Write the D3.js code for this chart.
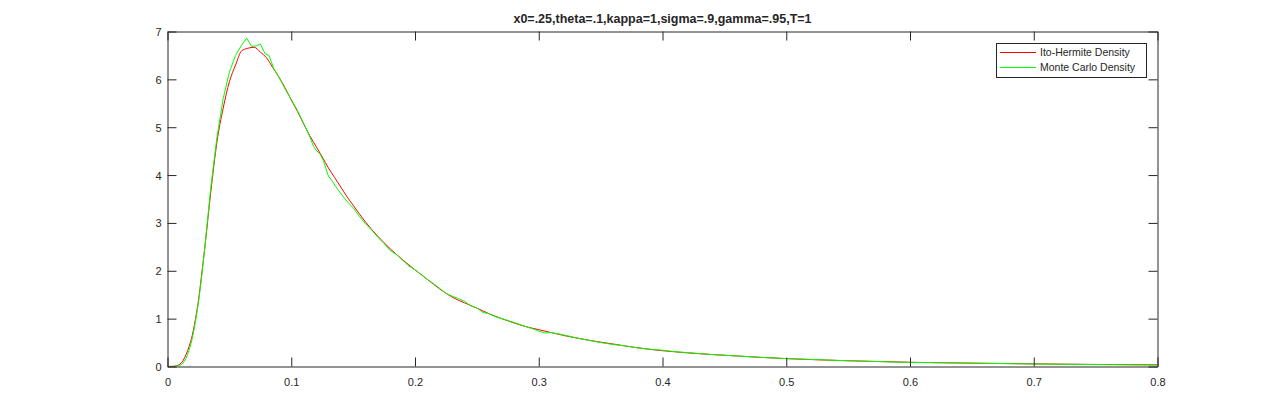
<!DOCTYPE html>
<html><head><meta charset="utf-8">
<script src="https://cdn.jsdelivr.net/npm/d3@7"></script>
<style>
html,body{margin:0;padding:0;background:#fff;}
svg{display:block;}
text{font-family:"Liberation Sans",Arial,Helvetica,sans-serif;fill:#262626;}
</style></head>
<body>
<svg id="c" width="1280" height="413"></svg>
<script>
const titleText = "x0=.25,theta=.1,kappa=1,sigma=.9,gamma=.95,T=1";
const seriesNames = ["Ito-Hermite Density", "Monte Carlo Density"];
const xTicks = [0, 0.1, 0.2, 0.3, 0.4, 0.5, 0.6, 0.7, 0.8];
const yTicks = [0, 1, 2, 3, 4, 5, 6, 7];

const itoX = [0,0.005,0.01,0.0125,0.015,0.0175,0.02,0.0225,0.025,0.0275,0.03,0.035,0.04,0.045,0.05,0.055,0.06,0.065,0.07,0.075,0.08,0.085,0.09,0.095,0.1,0.105,0.11,0.115,0.12,0.125,0.13,0.135,0.14,0.145,0.15,0.16,0.17,0.18,0.19,0.2,0.21,0.22,0.23,0.24,0.25,0.26,0.27,0.28,0.29,0.3,0.32,0.34,0.36,0.38,0.4,0.42,0.44,0.46,0.48,0.5,0.55,0.6,0.65,0.7,0.75,0.8];
const itoY = [0,0.005,0.05,0.12,0.25,0.42,0.65,0.98,1.38,1.9,2.45,3.65,4.7,5.4,5.95,6.3,6.6,6.65,6.67,6.57,6.45,6.25,6.05,5.82,5.57,5.33,5.07,4.82,4.6,4.38,4.15,3.95,3.75,3.55,3.37,3.02,2.72,2.46,2.23,2.02,1.82,1.62,1.45,1.33,1.22,1.1,1.0,0.91,0.83,0.77,0.65,0.55,0.47,0.39,0.33,0.285,0.25,0.22,0.19,0.165,0.12,0.088,0.07,0.055,0.043,0.035];

const mcX = [0,0.005,0.01,0.0125,0.015,0.0175,0.02,0.0225,0.025,0.0275,0.03,0.035,0.04,0.045,0.05,0.055,0.0595,0.064,0.068,0.072,0.075,0.079,0.082,0.086,0.09,0.095,0.1,0.105,0.11,0.115,0.118,0.12,0.123,0.126,0.13,0.133,0.137,0.142,0.146,0.15,0.155,0.16,0.165,0.17,0.175,0.18,0.185,0.19,0.195,0.2,0.205,0.21,0.215,0.22,0.225,0.23,0.235,0.24,0.245,0.25,0.255,0.26,0.265,0.27,0.28,0.29,0.295,0.3,0.305,0.31,0.32,0.33,0.34,0.35,0.36,0.37,0.38,0.39,0.4,0.41,0.42,0.43,0.44,0.46,0.48,0.5,0.55,0.6,0.65,0.7,0.75,0.8];
const mcY = [0,0.002,0.02,0.07,0.17,0.34,0.58,0.92,1.33,1.85,2.45,3.75,4.8,5.6,6.15,6.5,6.7,6.86,6.69,6.7,6.74,6.53,6.5,6.22,6.05,5.8,5.58,5.35,5.08,4.8,4.6,4.52,4.45,4.3,3.98,3.88,3.72,3.55,3.42,3.32,3.14,2.98,2.85,2.7,2.57,2.42,2.34,2.22,2.1,2.02,1.92,1.82,1.73,1.63,1.53,1.47,1.42,1.36,1.27,1.22,1.13,1.1,1.04,1.0,0.92,0.83,0.79,0.74,0.7,0.71,0.66,0.6,0.55,0.5,0.46,0.43,0.39,0.36,0.34,0.31,0.29,0.27,0.25,0.22,0.19,0.165,0.12,0.085,0.07,0.052,0.04,0.03];

const colors = ["#ff0000", "#00ff00"];
const axisColor = "#262626";

const svg = d3.select("#c");
const L = 167.5, R = 1157.5, T = 31.5, B = 366.5;
const x = d3.scaleLinear().domain([0, 0.8]).range([L, R]);
const y = d3.scaleLinear().domain([0, 7]).range([B, T]);
const tickLen = 9;

const series = [d3.zip(itoX, itoY), d3.zip(mcX, mcY)];
const lines = [
  d3.line().x(d => x(d[0])).y(d => y(d[1])).curve(d3.curveMonotoneX),
  d3.line().x(d => x(d[0])).y(d => y(d[1]))
];
svg.append("clipPath").attr("id","pc").append("rect")
  .attr("x", L).attr("y", T).attr("width", R-L).attr("height", B-T);
svg.append("g").attr("clip-path","url(#pc)").selectAll("path.curve").data([0,1]).join("path")
  .attr("class","curve")
  .attr("d", i => lines[i](series[i]))
  .attr("fill","none").style("stroke", i => colors[i]).style("stroke-width", "1px")
  .attr("stroke-linejoin","round");

// axes
const gB = svg.append("g").attr("transform", `translate(0,${B})`)
  .call(d3.axisBottom(x).tickValues(xTicks).tickSizeInner(-tickLen).tickSizeOuter(0).tickPadding(12)
    .tickFormat(d => d === 0 ? "0" : d3.format(".1f")(d)));
const gT = svg.append("g").attr("transform", `translate(0,${T})`)
  .call(d3.axisTop(x).tickValues(xTicks).tickSizeInner(-tickLen).tickSizeOuter(0).tickFormat(""));
const gL = svg.append("g").attr("transform", `translate(${L},0)`)
  .call(d3.axisLeft(y).tickValues(yTicks).tickSizeInner(-tickLen).tickSizeOuter(0).tickPadding(6).tickFormat(d3.format("d")));
const gR = svg.append("g").attr("transform", `translate(${R},0)`)
  .call(d3.axisRight(y).tickValues(yTicks).tickSizeInner(-tickLen).tickSizeOuter(0).tickFormat(""));
[gB,gT,gL,gR].forEach(g => {
  g.select(".domain").attr("stroke", axisColor).attr("stroke-width", 1);
  g.selectAll(".tick line").attr("stroke", axisColor).attr("stroke-width", 1);
  g.selectAll(".tick text").attr("fill", axisColor).style("font-size","11px")
    .style("font-family",'"Liberation Sans",Arial,sans-serif');
});
gL.selectAll(".tick text").attr("dy","0.36em");

// title
svg.append("text").attr("x", (L+R)/2).attr("y", 23).attr("text-anchor","middle")
  .style("font-size","12.5px").style("font-weight","bold").text(titleText);

// legend
const lg = svg.append("g");
lg.append("rect").attr("x", 996.5).attr("y", 43.5).attr("width", 150).attr("height", 34)
  .attr("fill","#fff").attr("stroke", axisColor).attr("stroke-width", 1);
seriesNames.forEach((n, i) => {
  const yy = 52.5 + i * 15;
  lg.append("line").attr("x1", 1000).attr("x2", 1036).attr("y1", yy).attr("y2", yy)
    .style("stroke", colors[i]).style("stroke-width", "1px");
  lg.append("text").attr("x", 1040).attr("y", yy).attr("dy","0.35em")
    .style("font-size","10.5px").text(n);
});
</script>
</body></html>
